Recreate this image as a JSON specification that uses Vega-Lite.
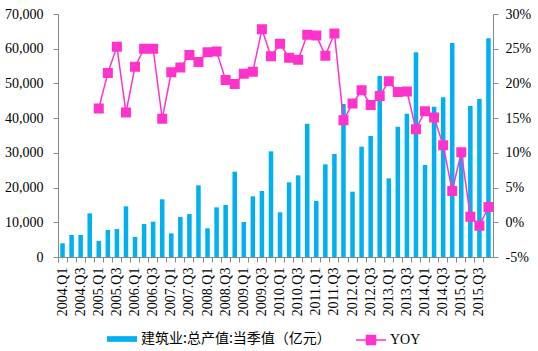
{
  "$schema": "https://vega.github.io/schema/vega-lite/v6.json",
  "width": 435,
  "height": 243,
  "autosize": "none",
  "padding": {"left": 58, "top": 14, "right": 45, "bottom": 94},
  "background": "white",
  "config": {
    "view": {"stroke": null},
    "font": "Liberation Serif",
    "axis": {"labelFont": "Liberation Serif", "labelColor": "#000", "labelFontSize": 14, "domainColor": "#888", "tickColor": "#888", "grid": false, "title": null},
    "legend": {"labelFont": "Noto Sans CJK SC", "labelFontSize": 14, "labelColor": "#000", "padding": 0, "labelLimit": 400}
  },
  "data": {
    "values": [
      {"q": "2004.Q1", "value": 3950, "yoy": null},
      {"q": "2004.Q2", "value": 6340, "yoy": null},
      {"q": "2004.Q3", "value": 6340, "yoy": null},
      {"q": "2004.Q4", "value": 12580, "yoy": null},
      {"q": "2005.Q1", "value": 4610, "yoy": 16.4},
      {"q": "2005.Q2", "value": 7780, "yoy": 21.5},
      {"q": "2005.Q3", "value": 8070, "yoy": 25.3},
      {"q": "2005.Q4", "value": 14600, "yoy": 15.8},
      {"q": "2006.Q1", "value": 5760, "yoy": 22.4},
      {"q": "2006.Q2", "value": 9500, "yoy": 25.0},
      {"q": "2006.Q3", "value": 10170, "yoy": 25.0},
      {"q": "2006.Q4", "value": 16620, "yoy": 14.9},
      {"q": "2007.Q1", "value": 6820, "yoy": 21.6},
      {"q": "2007.Q2", "value": 11520, "yoy": 22.3},
      {"q": "2007.Q3", "value": 12390, "yoy": 24.1},
      {"q": "2007.Q4", "value": 20650, "yoy": 23.1},
      {"q": "2008.Q1", "value": 8270, "yoy": 24.5},
      {"q": "2008.Q2", "value": 14310, "yoy": 24.6},
      {"q": "2008.Q3", "value": 14980, "yoy": 20.5},
      {"q": "2008.Q4", "value": 24580, "yoy": 19.9},
      {"q": "2009.Q1", "value": 10080, "yoy": 21.4},
      {"q": "2009.Q2", "value": 17480, "yoy": 21.7},
      {"q": "2009.Q3", "value": 19010, "yoy": 27.8},
      {"q": "2009.Q4", "value": 30440, "yoy": 23.9},
      {"q": "2010.Q1", "value": 12870, "yoy": 25.7},
      {"q": "2010.Q2", "value": 21510, "yoy": 23.7},
      {"q": "2010.Q3", "value": 23520, "yoy": 23.4},
      {"q": "2010.Q4", "value": 38410, "yoy": 27.0},
      {"q": "2011.Q1", "value": 16130, "yoy": 26.9},
      {"q": "2011.Q2", "value": 26690, "yoy": 24.0},
      {"q": "2011.Q3", "value": 29670, "yoy": 27.2},
      {"q": "2011.Q4", "value": 44070, "yoy": 14.7},
      {"q": "2012.Q1", "value": 18820, "yoy": 17.1},
      {"q": "2012.Q2", "value": 31780, "yoy": 19.0},
      {"q": "2012.Q3", "value": 34860, "yoy": 16.9},
      {"q": "2012.Q4", "value": 52140, "yoy": 18.2},
      {"q": "2013.Q1", "value": 22660, "yoy": 20.3},
      {"q": "2013.Q2", "value": 37540, "yoy": 18.75},
      {"q": "2013.Q3", "value": 41290, "yoy": 18.85},
      {"q": "2013.Q4", "value": 58950, "yoy": 13.4},
      {"q": "2014.Q1", "value": 26500, "yoy": 16.0},
      {"q": "2014.Q2", "value": 43300, "yoy": 15.1},
      {"q": "2014.Q3", "value": 46000, "yoy": 11.1},
      {"q": "2014.Q4", "value": 61650, "yoy": 4.5},
      {"q": "2015.Q1", "value": 29150, "yoy": 10.1},
      {"q": "2015.Q2", "value": 43500, "yoy": 0.8},
      {"q": "2015.Q3", "value": 45510, "yoy": -0.5},
      {"q": "2015.Q4", "value": 63000, "yoy": 2.2}
    ]
  },
  "layer": [
    {
      "mark": {"type": "bar", "width": {"band": 0.5}},
      "encoding": {
        "x": {"field": "q", "type": "ordinal", "sort": null,
          "scale": {"paddingInner": 0, "paddingOuter": 0},
          "axis": {"orient": "bottom", "bandPosition": 0, "labels": false, "ticks": true, "tickSize": 5, "domain": true}},
        "y": {"field": "value", "type": "quantitative",
          "scale": {"domain": [0, 70000], "nice": false},
          "axis": {"orient": "left", "values": [0, 10000, 20000, 30000, 40000, 50000, 60000, 70000], "format": ",.0f", "tickSize": 5, "labelPadding": 10}},
        "color": {"datum": "建筑业:总产值:当季值（亿元）", "type": "nominal",
          "scale": {"range": ["#00B0F0"]},
          "legend": {"orient": "none", "legendX": 49, "legendY": 310, "title": null,
            "symbolType": "M-1,-0.19L1,-0.19L1,0.19L-1,0.19Z", "symbolSize": 900, "symbolStrokeWidth": 0, "symbolFillColor": "#00B0F0", "symbolOpacity": 1, "labelOffset": 4}}
      }
    },
    {
      "mark": {"type": "line", "strokeWidth": 1.5, "point": {"shape": "square", "size": 64, "filled": true, "color": "#FF33CC", "opacity": 1}},
      "encoding": {
        "x": {"field": "q", "type": "ordinal", "sort": null,
          "axis": {"orient": "bottom", "labelAngle": -90, "ticks": false, "domain": false, "labelPadding": 10, "labelFontSize": 14,
            "labelExpr": "indexof(datum.value, 'Q2') >= 0 || indexof(datum.value, 'Q4') >= 0 ? '' : datum.value"}},
        "y": {"field": "yoy", "type": "quantitative",
          "scale": {"domain": [-5, 30], "nice": false},
          "axis": {"orient": "right", "values": [-5, 0, 5, 10, 15, 20, 25, 30], "labelExpr": "datum.value + '%'", "tickSize": 5, "labelPadding": 7}},
        "stroke": {"datum": "YOY", "type": "nominal",
          "scale": {"range": ["#FF33CC"]},
          "legend": {"orient": "none", "legendX": 297, "legendY": 310, "title": null,
            "symbolType": "M-1,0L-0.3,0L-0.3,-0.3L0.3,-0.3L0.3,0.3L-0.3,0.3L-0.3,0M0.3,0L1,0", "symbolSize": 900, "symbolStrokeWidth": 1.5, "symbolFillColor": "#FF33CC", "symbolStrokeColor": "#FF33CC", "symbolOpacity": 1, "labelOffset": 3, "labelFont": "Liberation Serif", "labelFontSize": 14}}
      }
    }
  ],
  "resolve": {"scale": {"y": "independent"}, "axis": {"x": "independent", "y": "independent"}}
}
